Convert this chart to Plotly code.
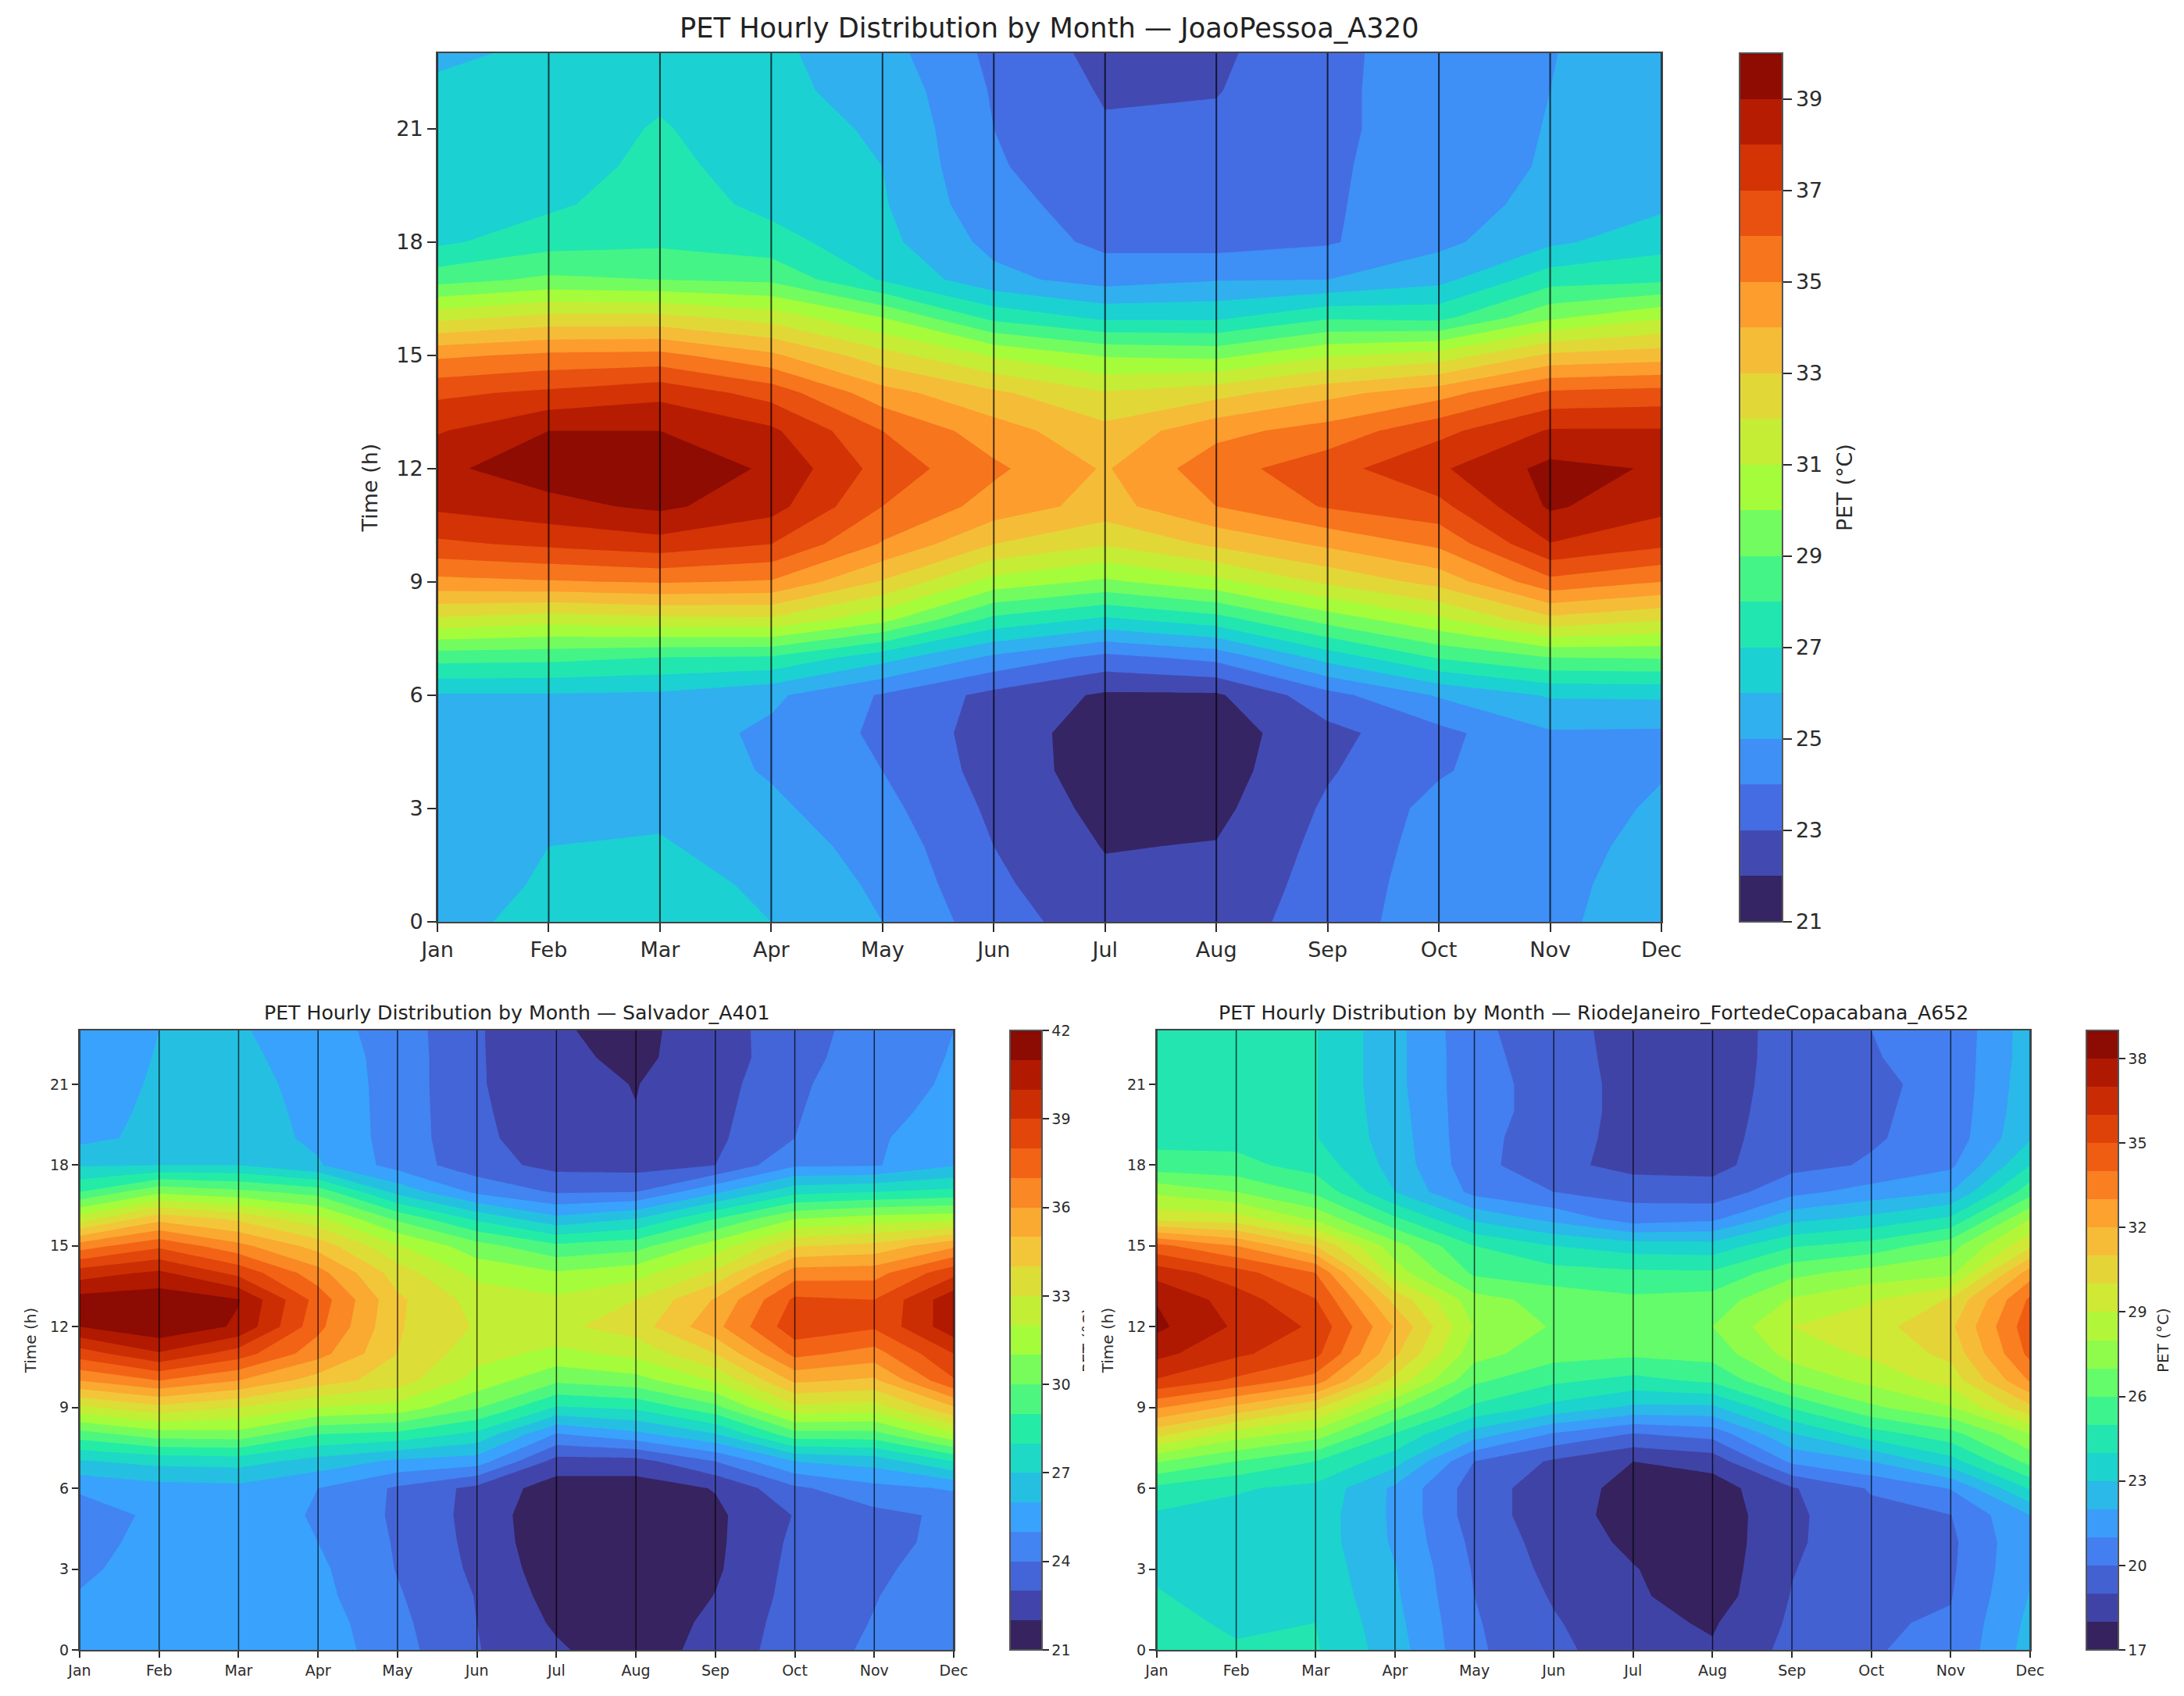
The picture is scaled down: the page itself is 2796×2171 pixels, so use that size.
"""PET hourly distribution by month, three stations (contour panels)."""

import numpy as np
import plotly.graph_objects as go

MONTHS = ["Jan", "Feb", "Mar", "Apr", "May", "Jun", "Jul", "Aug", "Sep", "Oct", "Nov", "Dec"]
HOURS = list(range(24))
HOUR_TICKS = [0, 3, 6, 9, 12, 15, 18, 21]

# one row per month, hours 0..23
JOAO_PESSOA = [
    [25.7, 25.6, 25.5, 25.4, 25.3, 25.3, 25.9, 28.4, 31.8, 34.7, 36.8, 38.2, 38.8, 37.9, 36.8, 34.8, 31.7, 28.6, 26.8, 26.7, 26.6, 26.5, 26.2, 25.8],
    [26.3, 26.1, 26.0, 25.8, 25.6, 25.5, 25.9, 28.3, 31.4, 34.9, 37.2, 38.7, 39.5, 39.0, 37.2, 35.2, 32.3, 29.2, 27.6, 26.8, 26.5, 26.4, 26.3, 26.2],
    [26.5, 26.4, 26.1, 25.8, 25.6, 25.5, 25.8, 28.0, 31.7, 35.1, 37.6, 39.2, 39.7, 39.0, 37.7, 35.3, 32.3, 29.0, 27.8, 27.6, 27.3, 27.1, 26.8, 26.5],
    [26.0, 25.8, 25.5, 25.2, 24.9, 24.8, 25.2, 27.9, 31.8, 34.9, 37.0, 38.4, 38.85, 38.2, 36.6, 34.2, 31.6, 28.8, 27.4, 26.7, 26.5, 26.3, 26.2, 26.2],
    [25.0, 24.8, 24.6, 24.3, 24.0, 23.8, 23.9, 26.4, 30.3, 32.9, 34.9, 36.0, 36.6, 36.0, 34.4, 32.4, 30.0, 26.9, 26.3, 26.1, 26.0, 25.9, 25.7, 25.4],
    [23.45, 23.2, 23.0, 22.8, 22.6, 22.55, 22.7, 24.8, 27.7, 30.6, 33.0, 34.6, 35.2, 34.45, 33.2, 30.9, 27.7, 25.3, 24.7, 24.3, 24.1, 24.0, 23.9, 23.75],
    [22.45, 22.2, 21.95, 21.7, 21.5, 21.5, 21.85, 23.7, 26.8, 29.8, 32.1, 33.6, 33.9, 33.3, 32.1, 29.9, 26.8, 24.6, 23.75, 23.6, 23.4, 23.1, 22.9, 22.7],
    [22.5, 22.3, 22.05, 21.75, 21.55, 21.5, 21.85, 24.3, 27.55, 30.7, 33.2, 35.0, 35.6, 34.7, 32.65, 29.7, 26.8, 24.95, 23.6, 23.5, 23.4, 23.2, 22.95, 22.8],
    [23.5, 23.4, 23.3, 23.15, 22.9, 22.7, 23.65, 26.4, 29.4, 32.2, 34.2, 36.1, 36.6, 35.4, 33.7, 30.9, 27.85, 25.0, 23.9, 23.85, 23.85, 23.8, 23.8, 23.8],
    [24.55, 24.5, 24.4, 24.3, 23.9, 23.7, 25.1, 28.1, 30.8, 33.35, 35.2, 36.7, 37.85, 36.7, 34.6, 31.4, 27.7, 25.7, 24.75, 24.7, 24.5, 24.45, 24.45, 24.4],
    [24.8, 24.75, 24.7, 24.65, 24.65, 24.9, 26.1, 29.0, 32.7, 35.7, 37.95, 39.15, 39.3, 38.1, 36.2, 33.2, 29.8, 27.6, 25.8, 25.2, 25.1, 25.05, 25.0, 24.97],
    [25.5, 25.4, 25.25, 25.1, 24.95, 24.85, 26.15, 29.1, 32.1, 35.0, 37.2, 38.3, 38.9, 38.1, 36.4, 33.5, 30.9, 27.8, 26.6, 25.8, 25.7, 25.6, 25.5, 25.4],
]
SALVADOR = [
    [25.3, 25.2, 25.05, 24.85, 24.7, 24.65, 25.1, 26.9, 29.5, 32.8, 36.0, 38.5, 41.0, 41.4, 39.5, 36.5, 32.5, 29.0, 26.9, 25.7, 25.6, 25.6, 25.5, 25.5],
    [25.5, 25.45, 25.4, 25.35, 25.27, 25.15, 25.6, 27.3, 30.5, 33.7, 37.0, 39.9, 41.8, 41.6, 40.2, 37.8, 34.7, 30.8, 27.0, 26.3, 26.2, 26.1, 26.05, 26.0],
    [25.7, 25.6, 25.55, 25.5, 25.5, 25.5, 25.7, 27.4, 30.6, 33.0, 36.0, 38.5, 40.85, 41.05, 38.7, 36.3, 33.8, 30.3, 27.0, 26.5, 26.4, 26.3, 26.2, 26.1],
    [25.6, 25.5, 25.3, 25.2, 25.0, 24.9, 25.0, 26.6, 29.0, 32.0, 34.5, 36.4, 37.3, 37.6, 36.4, 34.6, 32.3, 29.6, 26.1, 25.8, 25.75, 25.7, 25.6, 25.45],
    [24.37, 24.25, 24.1, 23.95, 23.9, 23.83, 23.85, 25.8, 28.7, 31.6, 33.5, 34.0, 34.1, 34.2, 33.5, 32.1, 29.8, 26.7, 24.6, 24.6, 24.6, 24.6, 24.6, 24.55],
    [23.05, 23.0, 22.95, 22.8, 22.7, 22.65, 22.7, 25.5, 27.7, 30.1, 31.6, 32.4, 32.9, 32.6, 31.7, 30.4, 27.8, 24.8, 23.4, 23.2, 23.15, 23.1, 23.1, 23.1],
    [22.15, 21.85, 21.6, 21.4, 21.25, 21.2, 21.5, 22.6, 24.9, 27.9, 30.2, 31.7, 32.76, 32.2, 31.1, 29.2, 26.3, 23.9, 22.7, 22.5, 22.4, 22.3, 22.2, 22.1],
    [21.3, 21.2, 21.1, 21.05, 21.05, 21.1, 21.5, 22.6, 25.7, 28.2, 30.6, 32.3, 33.5, 33.0, 31.6, 29.6, 27.0, 24.0, 22.6, 22.2, 22.02, 21.97, 21.8, 21.7],
    [22.5, 22.3, 22.03, 21.85, 21.8, 21.8, 22.05, 24.0, 26.9, 29.7, 32.1, 34.0, 35.7, 35.1, 33.2, 31.5, 29.0, 25.8, 23.0, 22.8, 22.7, 22.6, 22.5, 22.6],
    [23.4, 23.4, 23.35, 23.3, 23.2, 23.05, 23.8, 26.0, 29.6, 32.7, 35.2, 37.3, 38.67, 38.2, 36.5, 33.9, 31.0, 27.7, 24.85, 24.0, 23.9, 23.8, 23.6, 23.5],
    [24.2, 24.05, 23.95, 23.8, 23.6, 23.7, 24.7, 26.4, 29.6, 32.5, 34.8, 36.6, 38.15, 38.0, 36.6, 34.3, 31.5, 28.0, 24.9, 24.9, 24.8, 24.7, 24.6, 24.5],
    [24.7, 24.7, 24.65, 24.5, 24.35, 24.2, 25.1, 28.0, 31.8, 34.9, 37.9, 39.0, 40.65, 40.7, 38.7, 35.8, 31.7, 28.3, 25.9, 25.4, 25.2, 25.1, 25.05, 25.0],
]
RIO = [
    [24.6, 24.3, 24.05, 23.9, 23.8, 23.85, 24.75, 27.1, 30.3, 33.1, 35.9, 37.3, 38.22, 37.95, 36.6, 34.3, 29.7, 27.8, 25.4, 24.7, 24.65, 24.6, 24.6, 24.6],
    [24.1, 23.85, 23.75, 23.7, 23.7, 23.7, 24.1, 26.0, 28.5, 31.7, 34.8, 36.2, 36.85, 36.5, 35.4, 33.0, 29.5, 27.0, 25.3, 24.7, 24.65, 24.6, 24.6, 24.6],
    [24.1, 24.0, 23.8, 23.65, 23.55, 23.55, 23.75, 25.0, 27.5, 30.2, 33.5, 35.3, 35.82, 35.05, 34.0, 31.0, 27.8, 25.8, 24.6, 24.05, 24.05, 24.05, 24.05, 24.05],
    [22.45, 22.3, 22.15, 22.05, 21.85, 21.8, 21.8, 23.4, 24.9, 27.1, 29.7, 31.2, 31.9, 30.7, 28.5, 27.4, 25.2, 23.0, 22.6, 22.5, 22.4, 22.3, 22.3, 22.3],
    [20.15, 20.1, 20.0, 19.9, 19.75, 19.5, 19.5, 20.0, 22.5, 24.8, 26.2, 27.4, 27.95, 27.4, 25.8, 25.0, 22.8, 20.7, 20.35, 20.3, 20.3, 20.3, 20.3, 20.25],
    [19.3, 19.1, 18.9, 18.7, 18.55, 18.45, 18.45, 18.85, 20.85, 23.7, 25.2, 26.4, 26.9, 26.6, 25.4, 24.0, 21.7, 20.0, 19.3, 19.5, 19.7, 19.7, 19.55, 19.4],
    [18.3, 18.25, 18.15, 18.05, 17.8, 17.6, 17.7, 18.0, 19.9, 22.8, 24.7, 26.2, 26.7, 26.2, 25.2, 23.5, 20.5, 19.65, 18.65, 18.6, 18.55, 18.55, 18.55, 18.6],
    [18.1, 17.9, 17.5, 17.4, 17.35, 17.35, 17.5, 18.4, 20.35, 22.8, 25.2, 26.4, 27.0, 26.4, 25.15, 23.4, 20.8, 19.4, 18.7, 18.6, 18.55, 18.55, 18.55, 18.6],
    [19.3, 19.15, 19.05, 18.95, 18.85, 18.8, 18.9, 21.2, 22.9, 25.1, 27.2, 28.4, 29.0, 28.1, 26.7, 24.9, 22.7, 20.7, 19.7, 19.6, 19.5, 19.4, 19.35, 19.3],
    [19.95, 19.9, 19.8, 19.7, 19.6, 19.7, 20.1, 22.0, 24.5, 26.8, 28.3, 29.2, 29.6, 28.9, 27.4, 25.4, 23.3, 21.4, 20.1, 19.9, 19.85, 19.8, 19.95, 20.0],
    [20.2, 20.1, 19.95, 19.85, 19.8, 19.98, 21.05, 23.6, 25.6, 27.9, 29.4, 30.3, 30.8, 30.1, 27.7, 26.6, 24.2, 22.0, 20.8, 20.4, 20.35, 20.3, 20.3, 20.25],
    [22.4, 22.25, 22.05, 21.9, 21.85, 22.0, 24.1, 26.35, 27.9, 30.75, 33.1, 34.3, 34.65, 34.2, 32.5, 29.8, 28.0, 25.6, 24.0, 22.9, 22.7, 22.6, 22.5, 22.5],
]

JOAO_TITLE = "PET Hourly Distribution by Month — JoaoPessoa_A320"
SALVADOR_TITLE = "PET Hourly Distribution by Month — Salvador_A401"
RIO_TITLE = "PET Hourly Distribution by Month — RiodeJaneiro_FortedeCopacabana_A652"

JOAO_CBAR_TICKS = [21, 23, 25, 27, 29, 31, 33, 35, 37, 39]
SALVADOR_CBAR_TICKS = [21, 24, 27, 30, 33, 36, 39, 42]
RIO_CBAR_TICKS = [17, 20, 23, 26, 29, 32, 35, 38]

# the page body has an 8px margin, so the figure sits 8px in from the window corner
BODY_MARGIN = 8
WIDTH, HEIGHT = 2796 - 2 * BODY_MARGIN, 2171 - 2 * BODY_MARGIN
FONT = "DejaVu Sans"
INK = "#2b2b2b"


def px_x(value):
    return (value - BODY_MARGIN) / WIDTH


def px_y(value):
    return 1 - (value - BODY_MARGIN) / HEIGHT


fig = go.Figure()

panels = [
    # z, title, level range, cbar ticks, plot box, cbar box, title y, tick font, label font, tick len, title font
    (JOAO_PESSOA, JOAO_TITLE, 21, 40, JOAO_CBAR_TICKS, (560, 2127, 68, 1180), (2227, 55), 36, 27, 27, 11, 35.2),
    (SALVADOR, SALVADOR_TITLE, 21, 42, SALVADOR_CBAR_TICKS, (102, 1221, 1319, 2112), (1293, 41), 1296, 19, 20, 8, 25.2),
    (RIO, RIO_TITLE, 17, 39, RIO_CBAR_TICKS, (1481, 2599, 1319, 2112), (2671, 41), 1296, 19, 20, 8, 25.2),
]

annotations = []
for i, (values, title, low, high, cbar_ticks, box, cbar, title_y, tick_size, label_size, tick_len, title_size) in enumerate(panels):
    suffix = "" if i == 0 else str(i + 1)
    left, right, top, bottom = box
    z = np.array(values).T
    fig.add_trace(go.Contour(
        x=list(range(12)), y=HOURS, z=z,
        xaxis="x" + suffix, yaxis="y" + suffix,
        colorscale="Turbo", zmin=low, zmax=high,
        autocontour=False,
        contours={"start": low, "end": high, "size": 1, "coloring": "fill", "showlines": False},
        line={"width": 0, "smoothing": 0},
        colorbar={
            "x": px_x(cbar[0]), "xanchor": "left", "xpad": 0,
            "y": px_y(top), "yanchor": "top", "ypad": 0,
            "len": (bottom - top) / HEIGHT, "lenmode": "fraction",
            "thickness": cbar[1], "thicknessmode": "pixels",
            "tickmode": "array", "tickvals": cbar_ticks,
            "ticks": "outside", "ticklen": tick_len, "tickwidth": 2, "tickcolor": INK,
            "tickfont": {"family": FONT, "size": tick_size, "color": INK},
            "outlinecolor": "#555555", "outlinewidth": 2,
        },
        showscale=True,
    ))
    # vertical month lines
    line_x, line_y = [], []
    for month in range(12):
        line_x += [month, month, None]
        line_y += [HOURS[0], HOURS[-1], None]
    fig.add_trace(go.Scatter(
        x=line_x, y=line_y, mode="lines",
        xaxis="x" + suffix, yaxis="y" + suffix,
        line={"color": "rgba(0,0,0,0.72)", "width": 2 if i == 0 else 1.5},
        showlegend=False, hoverinfo="skip",
    ))
    axis_style = {
        "showline": True, "mirror": True, "linecolor": "#444444", "linewidth": 2,
        "ticks": "outside", "ticklen": tick_len, "tickwidth": 2, "tickcolor": INK,
        "tickfont": {"family": FONT, "size": tick_size, "color": INK},
        "showgrid": False, "zeroline": False,
    }
    fig.update_layout({
        "xaxis" + suffix: {
            **axis_style,
            "domain": [px_x(left), px_x(right)], "range": [0, 11],
            "anchor": "y" + suffix,
            "tickmode": "array", "tickvals": list(range(12)), "ticktext": MONTHS,
        },
        "yaxis" + suffix: {
            **axis_style,
            "domain": [px_y(bottom), px_y(top)], "range": [0, 23],
            "anchor": "x" + suffix,
            "tickmode": "array", "tickvals": HOUR_TICKS,
            "title": {"text": "Time (h)", "font": {"family": FONT, "size": label_size, "color": INK},
                      "standoff": 12 if i else 16},
        },
    })
    annotations.append({
        "text": title, "xref": "paper", "yref": "paper",
        "x": px_x((left + right) / 2), "y": px_y(title_y), "showarrow": False,
        "xanchor": "center", "yanchor": "middle",
        "font": {"family": FONT, "size": title_size, "color": "#222222"},
    })

# colourbar labels: the Salvador one is cut by the neighbouring panel in the source
for label_x, label_y, label_font, clip in [(2362, 624, 27, None), (2769, 1716, 20, None), (1384, 1716, 20, 7)]:
    label = {
        "text": "PET (°C)", "xref": "paper", "yref": "paper",
        "x": px_x(label_x), "y": px_y(label_y), "xanchor": "center", "yanchor": "middle",
        "textangle": -90, "showarrow": False,
        "font": {"family": FONT, "size": label_font, "color": INK},
    }
    if clip:
        label.update({"height": clip, "valign": "top"})
    annotations.append(label)

fig.update_layout(
    width=WIDTH, height=HEIGHT,
    margin={"l": 0, "r": 0, "t": 0, "b": 0, "autoexpand": False},
    paper_bgcolor="white", plot_bgcolor="white",
    showlegend=False, annotations=annotations,
    font={"family": FONT},
)

fig.write_html("out.html")
